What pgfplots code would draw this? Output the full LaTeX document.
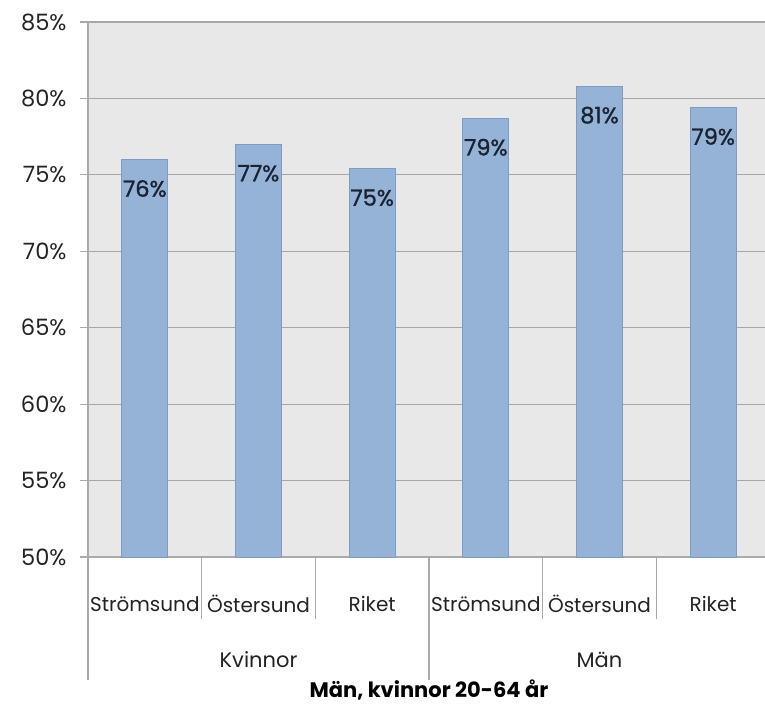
\documentclass[border=0pt]{standalone}
\usepackage{fontspec}
\setmainfont{Poppins}
\newfontfamily\valuefont[FakeBold=1.2]{Poppins}
\usepackage{pgfplots}
\pgfplotsset{compat=1.18}

\definecolor{plotbg}{RGB}{232,232,232}
\definecolor{gridgray}{RGB}{166,166,166}
\definecolor{axisgray}{RGB}{170,170,170}
\definecolor{barfill}{RGB}{149,179,215}
\definecolor{baredge}{RGB}{125,155,195}
\definecolor{textdark}{RGB}{35,35,35}
\definecolor{valuedark}{RGB}{25,35,50}

\begin{document}
\begin{tikzpicture}
\begin{axis}[
  at={(0pt,0pt)}, anchor=south west,
  scale only axis, width=682pt, height=535pt,
  xmin=-0.5, xmax=5.5, ymin=50, ymax=85,
  ybar, bar width=46pt,
  axis background/.style={fill=plotbg},
  axis x line*=bottom, axis y line*=left,
  axis line style={draw=axisgray, line width=1.1pt},
  ytick={50,55,...,85},
  yticklabel={\pgfmathprintnumber{\tick}\%},
  ymajorgrids, grid style={draw=gridgray, line width=1.2pt},
  tick align=outside, major tick length=8pt,
  ytick style={draw=axisgray, line width=1.1pt},
  xtick={0,...,5}, xtick style={draw=none},
  xticklabels={Strömsund,Östersund,Riket,Strömsund,Östersund,Riket},
  xticklabel style={anchor=center, yshift=-39pt, font=\fontsize{20}{22}\selectfont},
  yticklabel style={xshift=-10pt, font=\fontsize{22.5}{24}\selectfont},
  tick label style={text=textdark},
  /pgf/number format/assume math mode=true,
  nodes near coords={\pgfmathprintnumber[fixed,precision=0]{\pgfplotspointmeta}\%},
  every node near coord/.append style={anchor=center, yshift=-29pt,
    font=\valuefont\fontsize{22.5}{24}\selectfont, text=valuedark},
  clip=false,
  xlabel={\bfseries Män, kvinnor 20-64 år},
  xlabel style={at={(axis description cs:0.5,0)}, anchor=center, yshift=-133pt,
    font=\fontsize{21}{23}\selectfont, text=black},
]
\addplot[fill=barfill, draw=baredge, line width=0.8pt] coordinates {
  (0,76.0) (1,77.0) (2,75.4) (3,78.7) (4,80.8) (5,79.4)
};
% category separators below the axis
\draw[axisgray, line width=1.1pt] (axis cs:-0.5,50) -- ++(0pt,-123pt);
\draw[axisgray, line width=1.1pt] (axis cs:0.5,50) -- ++(0pt,-62pt);
\draw[axisgray, line width=1.1pt] (axis cs:1.5,50) -- ++(0pt,-62pt);
\draw[axisgray, line width=1.1pt] (axis cs:2.5,50) -- ++(0pt,-123pt);
\draw[axisgray, line width=1.1pt] (axis cs:3.5,50) -- ++(0pt,-62pt);
\draw[axisgray, line width=1.1pt] (axis cs:4.5,50) -- ++(0pt,-62pt);
\draw[axisgray, line width=1.1pt] (axis cs:5.5,50) -- ++(0pt,-123pt);
% group names
\node[font=\fontsize{21}{23}\selectfont, text=textdark] at (axis cs:1,50) [yshift=-103pt] {Kvinnor};
\node[font=\fontsize{21}{23}\selectfont, text=textdark] at (axis cs:4,50) [yshift=-103pt] {Män};
\end{axis}
\pgfresetboundingbox
\path[use as bounding box] (-88pt,-155pt) rectangle (677pt,557pt);
\end{tikzpicture}
\end{document}
